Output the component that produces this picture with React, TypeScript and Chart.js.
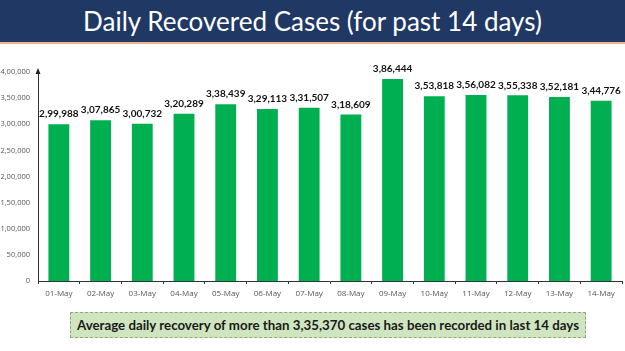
import React, { useEffect, useRef } from "react";
import { Chart, registerables } from "chart.js";

Chart.register(...registerables);

const categories = ["01-May","02-May","03-May","04-May","05-May","06-May","07-May","08-May","09-May","10-May","11-May","12-May","13-May","14-May"];
const recovered = [299988, 307865, 300732, 320289, 338439, 329113, 331507, 318609, 386444, 353818, 356082, 355338, 352181, 344776];
const yMin = 0;
const yMax = 400000;
const yStep = 50000;
const titleText = "Daily Recovered Cases (for past 14 days)";
const noteText = "Average daily recovery of more than 3,35,370 cases has been recorded in last 14 days";

function indian(n: number): string {
  const s = String(Math.round(n));
  if (s.length <= 3) return s;
  const last3 = s.slice(-3);
  let rest = s.slice(0, -3);
  const parts: string[] = [];
  while (rest.length > 2) {
    parts.unshift(rest.slice(-2));
    rest = rest.slice(0, -2);
  }
  if (rest.length) parts.unshift(rest);
  return parts.join(",") + "," + last3;
}

const labelPlugin = {
  id: "valueLabels",
  afterDatasetsDraw(chart: any) {
    const ctx = chart.ctx;
    const meta = chart.getDatasetMeta(0);
    ctx.save();
    ctx.font = "bold 10px Lato, sans-serif";
    ctx.fillStyle = "#111111";
    ctx.textAlign = "center";
    ctx.textBaseline = "bottom";
    meta.data.forEach((el: any, i: number) => {
      ctx.fillText(indian(chart.data.datasets[0].data[i]), el.x, el.y - 5);
    });
    ctx.restore();
  },
};

const arrowPlugin = {
  id: "axisArrow",
  afterDraw(chart: any) {
    const ctx = chart.ctx;
    const a = chart.chartArea;
    ctx.save();
    ctx.fillStyle = "#222222";
    ctx.beginPath();
    ctx.moveTo(a.left, a.top - 4);
    ctx.lineTo(a.left - 2.5, a.top + 2);
    ctx.lineTo(a.left + 2.5, a.top + 2);
    ctx.closePath();
    ctx.fill();
    ctx.restore();
  },
};

export default function App() {
  const ref = useRef<HTMLCanvasElement | null>(null);
  useEffect(() => {
    document.body.style.margin = "0";
    const chart = new Chart(ref.current as HTMLCanvasElement, {
      type: "bar",
      data: {
        labels: categories,
        datasets: [
          {
            data: recovered,
            backgroundColor: "#00B050",
            barPercentage: 0.5,
            categoryPercentage: 1,
          },
        ],
      },
      options: {
        animation: false,
        responsive: false,
        maintainAspectRatio: false,
        layout: { padding: { top: 72, right: 3, bottom: 46, left: 0 } },
        plugins: { legend: { display: false }, tooltip: { enabled: false } },
        scales: {
          x: {
            offset: true,
            border: { display: true, color: "#333333", width: 1 },
            grid: { display: true, offset: true, drawOnChartArea: false, drawTicks: true, tickLength: 3, color: "#333333" },
            ticks: { color: "#555555", font: { size: 8, family: "'Open Sans', sans-serif" }, padding: 5, maxRotation: 0, autoSkip: false },
            afterFit: (s: any) => { s.height = 24; },
          },
          y: {
            min: yMin,
            max: yMax,
            border: { display: true, color: "#333333", width: 1 },
            grid: { display: false, drawTicks: false, tickLength: 0 },
            ticks: {
              stepSize: yStep,
              color: "#555555",
              padding: 8,
              font: { size: 7.5, family: "'Open Sans', sans-serif" },
              callback: (v: any) => indian(Number(v)),
            },
            afterFit: (s: any) => { s.width = 38; },
          },
        },
      },
      plugins: [labelPlugin, arrowPlugin],
    });
    return () => chart.destroy();
  }, []);

  return (
    <div style={{ position: "relative", width: 625, height: 351, background: "#ffffff", overflow: "hidden" }}>
      <canvas ref={ref} width={625} height={351} style={{ position: "absolute", left: 0, top: 0 }} />
      <div
        style={{
          position: "absolute", left: 0, top: 0, width: 625, height: 42,
          background: "#1F3864", borderBottom: "2px solid #F4B183",
          color: "#ffffff", display: "flex", alignItems: "center", justifyContent: "center",
          fontFamily: "Lato, sans-serif", fontSize: 26, whiteSpace: "nowrap",
        }}
      >
        {titleText}
      </div>
      <div
        style={{
          position: "absolute", left: 70, top: 312, width: 516, height: 26,
          background: "#CFE5BF", border: "1px dashed #8FAA80", boxSizing: "border-box",
          display: "flex", alignItems: "center", justifyContent: "center",
          fontFamily: "Lato, sans-serif", fontWeight: 700, fontSize: 13.3, color: "#1a1a1a", whiteSpace: "nowrap",
        }}
      >
        {noteText}
      </div>
    </div>
  );
}
